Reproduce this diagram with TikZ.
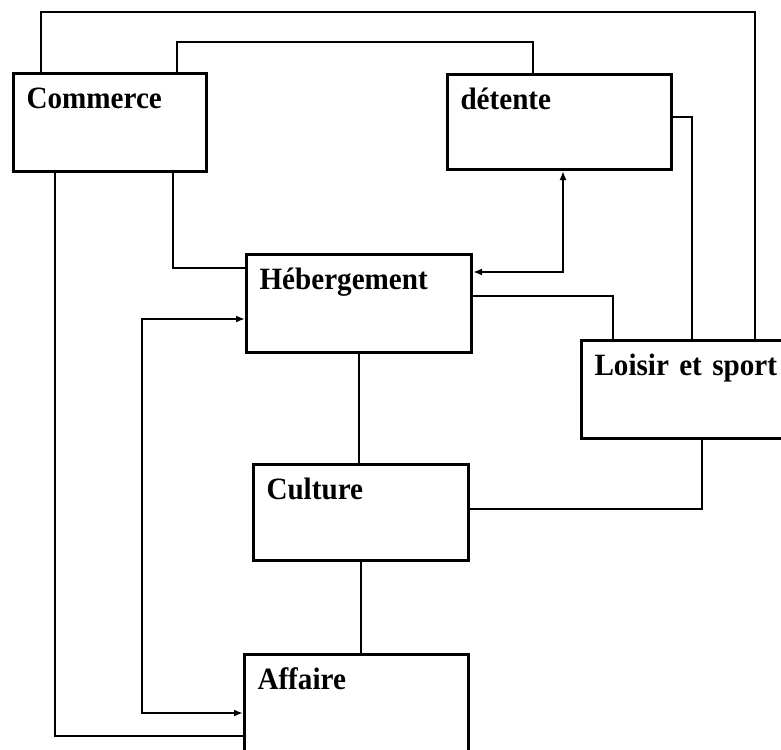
\documentclass[tikz,border=0pt]{standalone}
\usepackage{fontspec}
\setmainfont{Liberation Serif}[FakeStretch=0.94]
\usetikzlibrary{arrows.meta}

\begin{document}
\begin{tikzpicture}[
  x=1pt, y=-1pt,
  box/.style={draw,line width=3pt,anchor=north west,align=left,inner xsep=13pt,inner ysep=0pt,
    text height=35pt,font=\fontsize{31}{36}\selectfont\bfseries},
  link/.style={line width=2.7pt},
  arrow/.style={line width=2.7pt,{Latex[length=9pt,width=7pt]}-{Latex[length=9pt,width=7pt]}}
]
  \useasboundingbox (0,0) rectangle (781,749);

  \node[box, text width=167pt, text depth=63pt] (commerce) at (12,72) {Commerce};
  \node[box, text width=198pt, text depth=60pt] (detente) at (446,73) {détente};
  \node[box, text width=199pt, text depth=63pt] (hebergement) at (245,253) {Hébergement};
  \node[box, text width=202pt, text depth=63pt] (loisir) at (580,339) {Loisir et sport};
  \node[box, text width=189pt, text depth=61pt] (culture) at (252,463) {Culture};
  \node[box, text width=198pt, text depth=75pt] (affaire) at (243,653) {Affaire};

  \draw[link] ([xshift=29pt]commerce.north west) -- ++(0,60pt) -| ([xshift=175pt]loisir.north west);
  \draw[link] ([xshift=165pt]commerce.north west) -- ++(0,30pt) -| ([xshift=87pt]detente.north west);
  \draw[link] ([yshift=-44pt]detente.north east) -| ([xshift=112pt]loisir.north west);
  \draw[link] ([xshift=161pt]commerce.south west) |- ([yshift=-15pt]hebergement.north west);
  \draw[link] ([xshift=43pt]commerce.south west) |- ([yshift=-83pt]affaire.north west);
  \draw[arrow] ([yshift=-19pt]hebergement.north east) -| ([xshift=117pt]detente.south west);
  \draw[link] ([yshift=-43pt]hebergement.north east) -| ([xshift=33pt]loisir.north west);
  \draw[arrow] ([yshift=-66pt]hebergement.north west) -- ++(-103pt,0) |- ([yshift=-60pt]affaire.north west);
  \draw[link] (hebergement.south) -- (hebergement.south |- culture.north);
  \draw[link] (culture.south) -- (culture.south |- affaire.north);
  \draw[link] ([yshift=-46pt]culture.north east) -| ([xshift=122pt]loisir.south west);
\end{tikzpicture}
\end{document}
